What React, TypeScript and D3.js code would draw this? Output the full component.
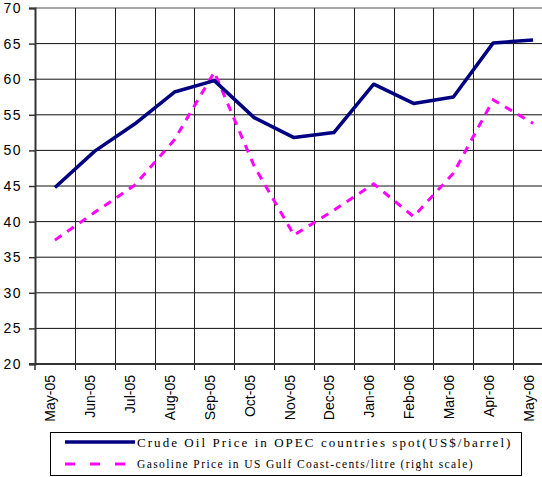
import React, { useRef, useEffect } from "react";
import * as d3 from "d3";

const months = [
  "May-05", "Jun-05", "Jul-05", "Aug-05", "Sep-05", "Oct-05", "Nov-05",
  "Dec-05", "Jan-06", "Feb-06", "Mar-06", "Apr-06", "May-06",
];
const crudeOil = [44.8, 49.9, 53.7, 58.2, 59.8, 54.6, 51.8, 52.5, 59.3, 56.6, 57.5, 65.1, 65.5];
const gasoline = [37.4, 41.3, 45.1, 51.5, 61.0, 47.8, 38.1, 41.6, 45.3, 40.7, 46.8, 57.1, 53.8];
const yTicks = [20, 25, 30, 35, 40, 45, 50, 55, 60, 65, 70];
const legendLabels = [
  "Crude Oil Price in OPEC countries spot(US$/barrel)",
  "Gasoline Price in US Gulf Coast-cents/litre (right scale)",
];

const App = () => {
  const ref = useRef<SVGSVGElement>(null);

  useEffect(() => {
    const width = 542;
    const height = 477;
    const left = 35;
    const right = 553; // plot runs past the picture edge, like the original
    const top = 8;
    const bottom = 364;

    const svg = d3.select(ref.current).attr("width", width).attr("height", height);
    svg.selectAll("*").remove();

    const x = d3.scaleBand().domain(months).range([left, right]);
    const y = d3.scaleLinear().domain([20, 70]).range([bottom, top]);
    // right scale (gasoline) uses the same range; its axis is off the picture
    const y2 = d3.scaleLinear().domain([20, 70]).range([bottom, top]);
    const cx = (m: string) => (x(m) as number) + x.bandwidth() / 2;

    // horizontal grid
    svg
      .append("g")
      .selectAll("line")
      .data(yTicks)
      .enter()
      .append("line")
      .attr("x1", left)
      .attr("x2", right)
      .attr("y1", (d) => y(d))
      .attr("y2", (d) => y(d))
      .attr("stroke", (d) => (d === 70 ? "#888" : "#111"))
      .attr("stroke-width", (d) => (d === 70 ? 1.5 : 1));

    // vertical grid at category boundaries
    const bounds = months.map((m) => x(m) as number).slice(1);
    svg
      .append("g")
      .selectAll("line")
      .data(bounds)
      .enter()
      .append("line")
      .attr("x1", (d) => Math.round(d) + 0.5)
      .attr("x2", (d) => Math.round(d) + 0.5)
      .attr("y1", top)
      .attr("y2", bottom + 6)
      .attr("stroke", "#222")
      .attr("stroke-width", 1);

    // left axis
    const yAxis = d3.axisLeft(y).tickValues(yTicks).tickSize(6).tickPadding(7);
    const ga = svg.append("g").attr("transform", `translate(${left},0)`).call(yAxis);
    ga.select(".domain").attr("stroke", "#333").attr("stroke-width", 2);
    ga.selectAll(".tick line").attr("stroke", "#333").attr("stroke-width", 1.5);
    ga.selectAll(".tick text")
      .attr("font-family", "Liberation Sans, Arial, sans-serif")
      .attr("font-size", 14)
      .attr("letter-spacing", 1.5)
      .attr("fill", "#000");

    // bottom axis
    svg
      .append("line")
      .attr("x1", left - 6)
      .attr("x2", right)
      .attr("y1", bottom)
      .attr("y2", bottom)
      .attr("stroke", "#333")
      .attr("stroke-width", 2);
    svg
      .append("line")
      .attr("x1", left)
      .attr("x2", left)
      .attr("y1", bottom)
      .attr("y2", bottom + 6)
      .attr("stroke", "#333")
      .attr("stroke-width", 1.5);

    svg
      .append("g")
      .selectAll("text")
      .data(months)
      .enter()
      .append("text")
      .attr("transform", (d) => `translate(${cx(d) + 0.5},${bottom + 11}) rotate(-90)`)
      .attr("text-anchor", "end")
      .attr("font-family", "Liberation Sans, Arial, sans-serif")
      .attr("font-size", 14)
      .attr("fill", "#000")
      .text((d) => d);

    // series
    const crudeLine = d3
      .line<number>()
      .x((_, i) => cx(months[i]))
      .y((d) => y(d));
    const gasLine = d3
      .line<number>()
      .x((_, i) => cx(months[i]))
      .y((d) => y2(d));

    svg
      .append("path")
      .attr("d", gasLine(gasoline))
      .attr("fill", "none")
      .attr("stroke", "#FF00FF")
      .attr("stroke-width", 3)
      .attr("stroke-dasharray", "8 7");

    svg
      .append("path")
      .attr("d", crudeLine(crudeOil))
      .attr("fill", "none")
      .attr("stroke", "#000080")
      .attr("stroke-width", 3.5)
      .attr("stroke-linejoin", "round");

    // legend
    const lg = svg.append("g");
    lg.append("rect")
      .attr("x", 50.5)
      .attr("y", 432.5)
      .attr("width", 471)
      .attr("height", 43)
      .attr("fill", "#fff")
      .attr("stroke", "#000")
      .attr("stroke-width", 1);
    lg.append("line")
      .attr("x1", 65)
      .attr("x2", 135)
      .attr("y1", 442)
      .attr("y2", 442)
      .attr("stroke", "#000080")
      .attr("stroke-width", 3.5);
    lg.append("line")
      .attr("x1", 65)
      .attr("x2", 125)
      .attr("y1", 464)
      .attr("y2", 464)
      .attr("stroke", "#FF00FF")
      .attr("stroke-width", 3)
      .attr("stroke-dasharray", "10 15");
    lg.append("text")
      .attr("x", 137)
      .attr("y", 446.5)
      .attr("font-family", "Liberation Serif, Times New Roman, serif")
      .attr("font-size", 13)
      .attr("letter-spacing", 2.05)
      .text(legendLabels[0]);
    lg.append("text")
      .attr("x", 137)
      .attr("y", 468)
      .attr("font-family", "Liberation Serif, Times New Roman, serif")
      .attr("font-size", 11.5)
      .attr("letter-spacing", 1.4)
      .text(legendLabels[1]);
  }, []);

  return (
    <svg
      ref={ref}
      style={{ position: "absolute", left: 0, top: 0, background: "#fff" }}
    ></svg>
  );
};

export default App;
